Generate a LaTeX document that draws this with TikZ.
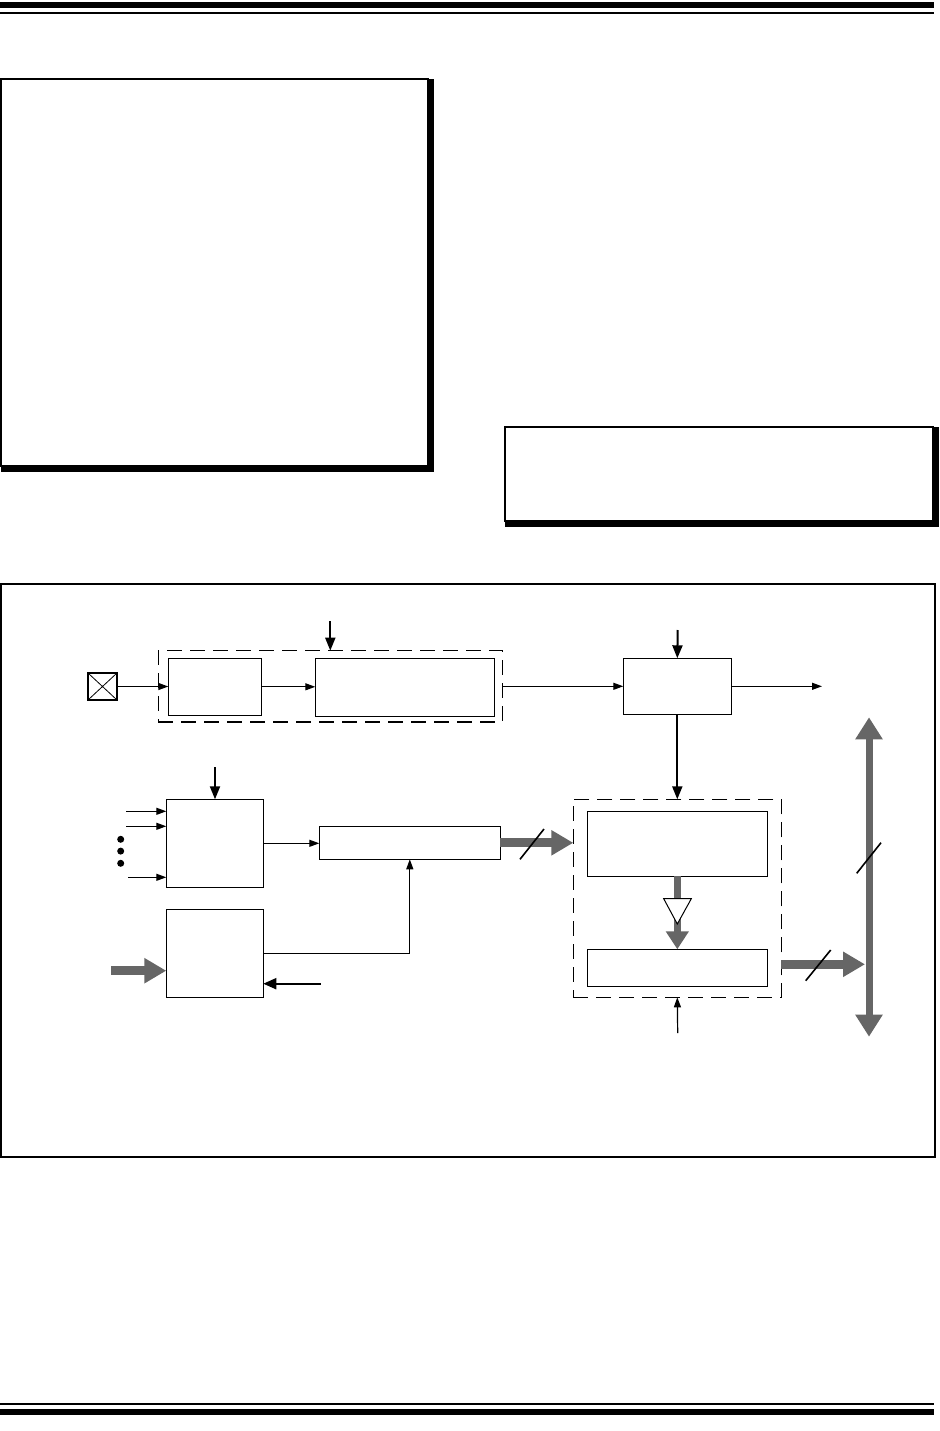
\documentclass[tikz,border=0pt]{standalone}
\usetikzlibrary{arrows.meta}
\definecolor{busgray}{RGB}{102,102,102}
\begin{document}
\begin{tikzpicture}[x=1pt,y=-1pt,
  blk/.style={draw=black,line width=1.1pt,inner sep=0pt,outer sep=0pt,fill=white},
  dbox/.style={draw=black,line width=1.1pt,dash pattern=on 15pt off 8pt,inner sep=0pt,outer sep=0pt},
  thin/.style={line width=1.2pt,-{Triangle[length=10pt,width=7pt]}},
  thick/.style={line width=2pt,-{Triangle[length=13pt,width=10pt]}},
  gbus/.style={draw=busgray,line width=9pt,-{Triangle[length=22pt,width=24pt]}},
  slash/.style={line width=1.6pt,black}]
\useasboundingbox (0,0) rectangle (939,1431);
% page rules
\fill (0,2) rectangle (934,8);
\fill (0,12) rectangle (934,14);
\fill (0,1403) rectangle (934,1405);
\fill (0,1409) rectangle (934,1415);
% left text frame with shadow
\draw[line width=1.1pt] (1,79) rectangle (428,466);
\fill (428,79) rectangle (434,472);
\fill (1,466) rectangle (434,472);
% right text frame with shadow
\draw[line width=1.1pt] (505,427) rectangle (933,521);
\fill (933,427) rectangle (939,527);
\fill (505,521) rectangle (939,527);
% figure frame
\draw[line width=1.1pt] (1,584) rectangle (935,1157);

% dashed groups
\node[dbox,minimum width=344pt,minimum height=71.3pt] (D1) at (330.3,686.3) {};
\node[dbox,minimum width=208pt,minimum height=198pt] (D2) at (677.3,898.3) {};

% blocks
\node[blk,minimum width=29pt,minimum height=27pt] (X) at (102.5,686.5) {};
\draw[line width=0.8pt] (X.north west) -- (X.south east) (X.north east) -- (X.south west);
\node[blk,minimum width=93pt,minimum height=57pt] (A) at (214.8,686.8) {};
\node[blk,minimum width=179pt,minimum height=58pt] (B) at (404.8,687.3) {};
\node[blk,minimum width=108pt,minimum height=56pt] (C) at (677.3,686.3) {};
\node[blk,minimum width=180pt,minimum height=65pt] (D) at (677.3,843.8) {};
\node[blk,minimum width=180pt,minimum height=37pt] (E) at (677.3,967.8) {};
\node[blk,minimum width=97pt,minimum height=88pt] (G) at (214.8,843.3) {};
\node[blk,minimum width=181pt,minimum height=33pt] (F) at (409.8,842.8) {};
\node[blk,minimum width=97pt,minimum height=88pt] (H) at (214.8,953.3) {};

% coordinates for free ends
\coordinate (t1) at (330.3,621);
\coordinate (t2) at (677.7,630);
\coordinate (o1) at (822,686.3);
\coordinate (t3) at (215,767);
\coordinate (i1) at (126,811.3);
\coordinate (i2) at (126,826.3);
\coordinate (i3) at (128.3,877.3);
\coordinate (b1) at (677.7,1033);
\coordinate (gin) at (111,970.7);
\coordinate (kin) at (320.7,983.7);
\coordinate (g2s) at (781.3,964.3);
\coordinate (g2e) at (865,964.3);
\coordinate (busT) at (869,717.3);
\coordinate (busB) at (869,1036.7);

% top row connectors
\draw[thin] (X.east) -- (X.east -| A.west);
\draw[thin] (A.east) -- (A.east -| B.west);
\draw[thick] (t1) -- (t1 |- D1.north);
\draw[thin] (D1.east) -- (D1.east -| C.west);
\draw[thick] (t2) -- (C.north);
\draw[thin] (C.east) -- (o1);
\draw[thick] (C.south) -- (D2.north);

% left column connectors
\draw[thick] (t3) -- (t3 |- G.north);
\draw[thin] (i1) -- (i1 -| G.west);
\draw[thin] (i2) -- (i2 -| G.west);
\draw[thin] (i3) -- (i3 -| G.west);
\fill (120.7,839.3) circle (3.5pt) (120.7,851.1) circle (3.5pt) (120.7,863.3) circle (3.5pt);
\draw[thin] (G.east) -- (G.east -| F.west);
\draw[thin] (H.east) -| (F.south);
\draw[gbus] (gin) -- (gin -| H.west);
\draw[thick,-{Triangle[length=13pt,width=11pt]}] (kin) -- (kin -| H.east);

% gray buses
\draw[gbus] (F.east) -- (F.east -| D2.west);
\draw[slash] (520,859.3) -- (544,829);
\draw[draw=busgray,line width=7pt,-{Triangle[length=18pt,width=22pt]}] (D.south) -- (E.north);
\filldraw[fill=white,draw=black,line width=1pt] (663.7,898.7) -- (691.3,898.7) -- (677.3,924) -- cycle;
\draw[thin] (b1) -- (D2.south);
\draw[gbus] (g2s) -- (g2e);
\draw[slash] (805.7,980.7) -- (830.7,950);
\draw[draw=busgray,line width=7pt,{Triangle[length=22pt,width=26pt]}-{Triangle[length=22pt,width=26pt]}] (busT) -- (busB);
\draw[slash] (856.7,873.3) -- (881,842.7);
\end{tikzpicture}
\end{document}
